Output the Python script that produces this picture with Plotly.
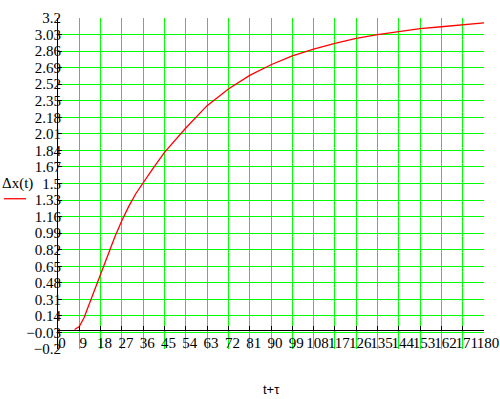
import plotly.graph_objects as go

# Data
t_vals = [7, 9, 11, 13, 15, 18, 21, 24, 27, 30, 33, 36, 40, 45, 50, 54, 63, 72, 81, 90,
          99, 108, 117, 126, 135, 144, 153, 162, 171, 180]
dx_vals = [0.0, 0.03, 0.12, 0.25, 0.38, 0.57, 0.76, 0.95, 1.12, 1.27, 1.40, 1.51, 1.65, 1.82, 1.96, 2.07,
           2.30, 2.47, 2.61, 2.72, 2.81, 2.88, 2.94, 2.99, 3.03, 3.06, 3.09, 3.11, 3.13, 3.15]

x_ticks = [0, 9, 18, 27, 36, 45, 54, 63, 72, 81, 90, 99, 108, 117, 126, 135, 144, 153, 162, 171, 180]
y_tick_labels = ["-0.2", "-0.03", "0.14", "0.31", "0.48", "0.65", "0.82", "0.99", "1.16", "1.33", "1.5",
                 "1.67", "1.84", "2.01", "2.18", "2.35", "2.52", "2.69", "2.86", "3.03", "3.2"]
y_ticks = [float(s) for s in y_tick_labels]
y_text = [s.replace("-", "\u2212") for s in y_tick_labels]

x_range = [0, 180]
y_range = [-0.2, 3.2]

fig = go.Figure()
fig.add_trace(go.Scatter(x=t_vals, y=dx_vals, mode="lines",
                         line=dict(color="#ff0000", width=1.3), showlegend=False,
                         hoverinfo="skip"))

SERIF = "Liberation Serif"
font_serif = dict(family=SERIF, size=15, color="black")
zero_pos = (0 - y_range[0]) / (y_range[1] - y_range[0])

fig.update_layout(
    width=500, height=399,
    margin=dict(l=58, r=16, t=18, b=50),
    paper_bgcolor="white", plot_bgcolor="white",
    showlegend=False,
    xaxis=dict(range=x_range, tickvals=x_ticks, ticktext=[str(v) for v in x_ticks],
               showgrid=True, gridcolor="#00ff00", gridwidth=1,
               zeroline=False, showline=True, linecolor="black", linewidth=1,
               ticks="inside", ticklen=4, tickcolor="black", tickwidth=1,
               anchor="free", position=zero_pos, tickfont=font_serif, tickangle=0,
               ticklabelshift=4, ticklabelstandoff=-1, ticklabeloverflow="allow",
               automargin=False),
    yaxis=dict(range=y_range, tickvals=y_ticks, ticktext=y_text,
               showgrid=True, gridcolor="#00ff00", gridwidth=1,
               zeroline=False, showline=True, linecolor="black", linewidth=1,
               ticks="inside", ticklen=4, tickcolor="black", tickwidth=1,
               tickfont=font_serif, ticklabelstandoff=-7, ticklabeloverflow="allow",
               automargin=False),
    annotations=[
        dict(text="\u0394x(t)", xref="paper", yref="paper", x=-0.094, y=0.50,
             xanchor="center", yanchor="middle", showarrow=False, font=font_serif),
        dict(text="t+\u03c4", xref="paper", yref="paper", x=0.502, y=-0.123,
             xanchor="center", yanchor="middle", showarrow=False,
             font=dict(family="Liberation Sans", size=13, color="black")),
    ],
    shapes=[dict(type="line", xref="paper", yref="paper", x0=-0.127, x1=-0.075, y0=0.454, y1=0.454,
                 line=dict(color="#ff0000", width=1.3))],
)
fig.write_html("out.html", config={"displayModeBar": False})
